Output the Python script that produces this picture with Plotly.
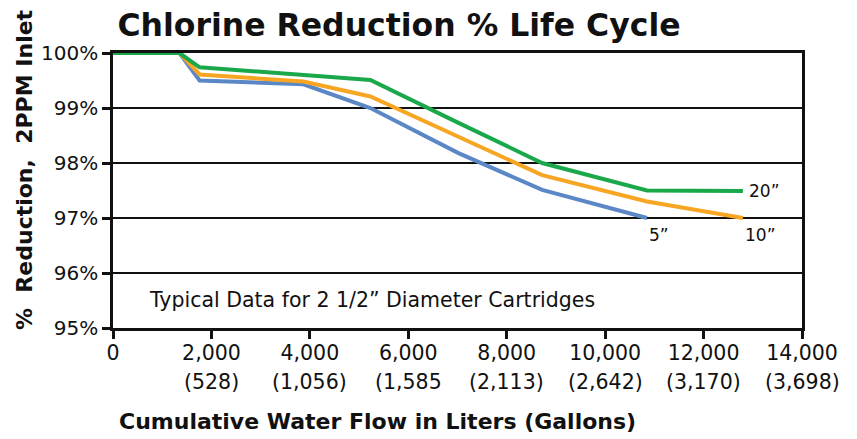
import plotly.graph_objects as go

# Data (liters cumulative flow, % reduction)
flow_liters = [0, 1350, 1760, 3870, 5230, 7020, 8720, 10850, 12800]
red_5in = [100, 100, 99.50, 99.43, 99.00, 98.18, 97.51, 97.00]
red_10in = [100, 100, 99.61, 99.48, 99.21, 98.47, 97.78, 97.30, 97.00]
red_20in = [100, 100, 99.74, 99.60, 99.51, 98.73, 98.00, 97.50, 97.49]

series_names = ["5\u201d", "10\u201d", "20\u201d"]
series_colors = ["#5b87c7", "#f6a623", "#1ba84b"]

x_tick_vals = [0, 2000, 4000, 6000, 8000, 10000, 12000, 14000]
x_tick_liters = ["0", "2,000", "4,000", "6,000", "8,000", "10,000", "12,000", "14,000"]
x_tick_gallons = ["", "(528)", "(1,056)", "(1,585", "(2,113)", "(2,642)", "(3,170)", "(3,698)"]
y_tick_vals = [95, 96, 97, 98, 99, 100]
y_tick_text = ["95%", "96%", "97%", "98%", "99%", "100%"]

FONT = "DejaVu Sans, Arial, sans-serif"
INK = "#111111"

# page body has an 8px margin; build the figure 8px smaller and offset
OFF = 8
FIG_W, FIG_H = 857 - OFF, 439 - OFF
# plot area in reference-picture pixels
L, R, T, B = 113, 802, 53, 328
W, H = R - L, B - T


def px_x(px):
    return (px - L) / W


def px_y(py):
    return (B - py) / H


fig = go.Figure()
all_series = [red_5in, red_10in, red_20in]
for name, ys, col in zip(series_names, all_series, series_colors):
    fig.add_trace(go.Scatter(
        x=flow_liters[:len(ys)], y=ys, mode="lines", name=name,
        line=dict(color=col, width=4), cliponaxis=False, showlegend=False,
    ))

# series end labels
label_offsets = {"5\u201d": (0, -17), "10\u201d": (0, -17), "20\u201d": (4, 0)}
for name, ys in zip(series_names, all_series):
    dx, dy = label_offsets[name]
    fig.add_annotation(
        x=flow_liters[len(ys) - 1], y=ys[-1], xref="x", yref="y",
        text=name, showarrow=False, xanchor="left", yanchor="middle",
        xshift=dx, yshift=dy, font=dict(family=FONT, size=17, color=INK),
    )

# gallons row under tick labels
for xv, g in zip(x_tick_vals, x_tick_gallons):
    if g:
        fig.add_annotation(
            x=xv, y=0, xref="x", yref="paper", text=g, showarrow=False,
            xanchor="center", yanchor="middle", yshift=-54,
            font=dict(family=FONT, size=20.5, color=INK),
        )

fig.add_annotation(
    x=px_x(372), y=px_y(300), xref="paper", yref="paper",
    text="Typical Data for 2 1/2\u201d Diameter Cartridges", showarrow=False,
    xanchor="center", yanchor="middle", font=dict(family=FONT, size=20.5, color=INK),
)

# y axis title
fig.add_annotation(
    x=px_x(24), y=px_y(170), xref="paper", yref="paper",
    text="%\u00a0 Reduction,\u00a0 2PPM Inlet", textangle=-90, showarrow=False,
    xanchor="center", yanchor="middle",
    font=dict(family=FONT, size=22, color=INK, weight="bold"),
)

# x axis title
fig.add_annotation(
    x=px_x(377), y=px_y(421), xref="paper", yref="paper",
    text="Cumulative Water Flow in Liters (Gallons)", showarrow=False,
    xanchor="center", yanchor="middle",
    font=dict(family=FONT, size=22, color=INK, weight="bold"),
)

fig.update_layout(
    width=FIG_W, height=FIG_H,
    margin=dict(l=L - OFF, r=857 - R, t=T - OFF, b=439 - B, pad=0, autoexpand=False),
    paper_bgcolor="white", plot_bgcolor="white",
    title=dict(
        text="Chlorine Reduction % Life Cycle", xref="container", yref="container",
        x=(399 - OFF) / FIG_W, y=1 - (25 - OFF) / FIG_H, xanchor="center", yanchor="middle",
        font=dict(family=FONT, size=31.5, color=INK, weight="bold"),
    ),
    xaxis=dict(
        range=[0, 14000], tickvals=x_tick_vals, ticktext=x_tick_liters,
        showgrid=False, zeroline=False, showline=True, linecolor="#111", linewidth=2.5,
        mirror=True, ticks="outside", ticklen=8, tickwidth=2.5, tickcolor="#111",
        tickfont=dict(family=FONT, size=20.5, color=INK), automargin=False,
        ticklabelstandoff=-3,
    ),
    yaxis=dict(
        range=[95, 100], tickvals=y_tick_vals, ticktext=y_tick_text,
        showgrid=True, gridcolor="#111", gridwidth=2, zeroline=False,
        showline=True, linecolor="#111", linewidth=2.5, mirror=True,
        ticks="outside", ticklen=8, tickwidth=2.5, tickcolor="#111",
        tickfont=dict(family=FONT, size=20, color=INK), automargin=False,
    ),
)
fig.write_html("out.html")
